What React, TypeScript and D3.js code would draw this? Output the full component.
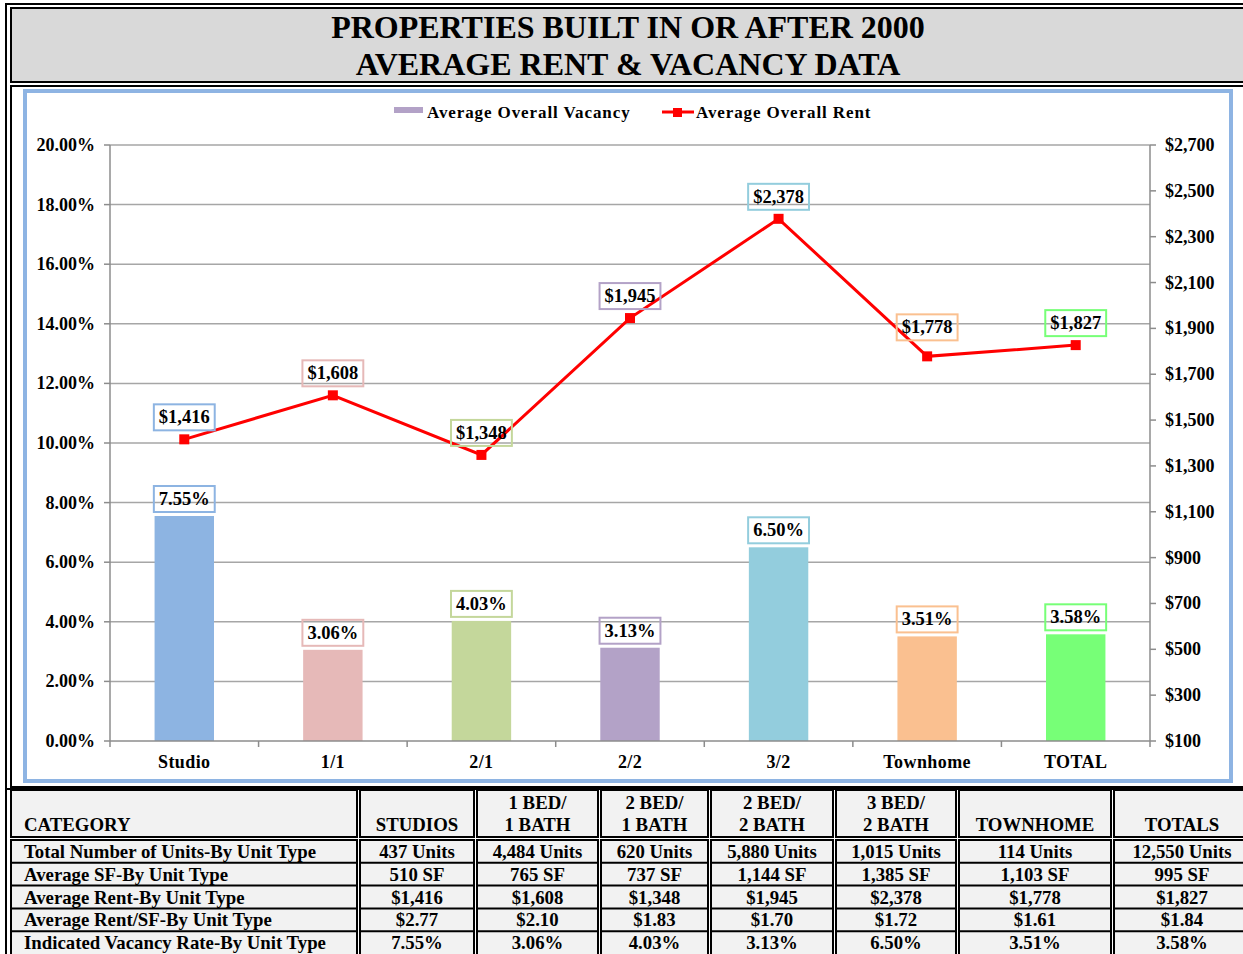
import React from 'react';
import * as d3 from 'd3';

// chart data
const categories = ['Studio', '1/1', '2/1', '2/2', '3/2', 'Townhome', 'TOTAL'];
const vacancy = [7.55, 3.06, 4.03, 3.13, 6.5, 3.51, 3.58];
const rent = [1416, 1608, 1348, 1945, 2378, 1778, 1827];
const barColors = ['#8db4e2', '#e6b9b8', '#c4d79b', '#b3a2c7', '#93cddd', '#fac090', '#77ff77'];
const vacancyTicks = [0, 2, 4, 6, 8, 10, 12, 14, 16, 18, 20];
const rentTicks = [100, 300, 500, 700, 900, 1100, 1300, 1500, 1700, 1900, 2100, 2300, 2500, 2700];

// table data
const colHeaders = [['STUDIOS'], ['1 BED/', '1 BATH'], ['2 BED/', '1 BATH'], ['2 BED/', '2 BATH'], ['3 BED/', '2 BATH'], ['TOWNHOME'], ['TOTALS']];
const rowLabels = [
    'Total Number of Units-By Unit Type',
    'Average SF-By Unit Type',
    'Average Rent-By Unit Type',
    'Average Rent/SF-By Unit Type',
    'Indicated Vacancy Rate-By Unit Type',
];
const units = [437, 4484, 620, 5880, 1015, 114, 12550];
const avgSf = [510, 765, 737, 1144, 1385, 1103, 995];
const rentPerSf = [2.77, 2.1, 1.83, 1.7, 1.72, 1.61, 1.84];

const FONT = "'Liberation Serif', 'Times New Roman', serif";
const W = 1243;
const H = 954;

// plot box
const plot = { left: 110, right: 1150, top: 145, bottom: 741 };

let ctx: CanvasRenderingContext2D | null = null;
const textWidth = (s: string, size: number) => {
    if (!ctx) ctx = document.createElement('canvas').getContext('2d');
    if (!ctx) return s.length * size * 0.5;
    ctx.font = `bold ${size}px ${FONT}`;
    return ctx.measureText(s).width;
};

const fmtComma = d3.format(',');
const fmtMoney = (v: number) => '$' + fmtComma(v);

const App = () => {
    const x = d3.scaleBand<string>()
        .domain(categories)
        .range([plot.left, plot.right])
        .paddingInner(0.6)
        .paddingOuter(0.3);
    const step = (plot.right - plot.left) / categories.length;
    const yL = d3.scaleLinear().domain([0, 20]).range([plot.bottom, plot.top]);
    const yR = d3.scaleLinear().domain([100, 2700]).range([plot.bottom, plot.top]);

    const cx = (c: string) => (x(c) as number) + x.bandwidth() / 2;
    const line = d3.line<number>()
        .x((_, i) => cx(categories[i]))
        .y(d => yR(d));

    // table layout
    const cols = [[11, 357], [360, 474], [477, 598], [601, 708], [711, 833], [836, 956], [959, 1111], [1114, 1250]];
    const headTop = 790, headBottom = 837, bodyTop = 840;
    const rowH = 22.8;
    const tableRows = [
        units.map(v => fmtComma(v) + ' Units'),
        avgSf.map(v => fmtComma(v) + ' SF'),
        rent.map(fmtMoney),
        rentPerSf.map(v => '$' + v.toFixed(2)),
        vacancy.map(v => v.toFixed(2) + '%'),
    ];

    const labelBox = (text: string, cxv: number, bottom: number, color: string, key: string) => {
        const w = textWidth(text, 18.5) + 10;
        return (
            <g key={key}>
                <rect x={cxv - w / 2} y={bottom - 26} width={w} height={26} fill="none" stroke={color} strokeWidth={2} />
                <text x={cxv} y={bottom - 7} textAnchor="middle" fontSize={18.5} fontWeight="bold" fontFamily={FONT}>{text}</text>
            </g>
        );
    };

    return (
        <div style={{ position: 'absolute', left: 0, top: 0 }}>
            <svg width={W} height={H} style={{ display: 'block' }} fontFamily={FONT}>
                <rect x={0} y={0} width={W} height={H} fill="#fff" />
                {/* outer frame */}
                <rect x={6} y={4} width={W + 10} height={H + 10} fill="none" stroke="#000" strokeWidth={2} />
                {/* title cell */}
                <rect x={11} y={8} width={W} height={74} fill="#d9d9d9" stroke="#000" strokeWidth={2} />
                <text x={628} y={38} textAnchor="middle" fontSize={32} fontWeight="bold">PROPERTIES BUILT IN OR AFTER 2000</text>
                <text x={628} y={75} textAnchor="middle" fontSize={32} fontWeight="bold">AVERAGE RENT &amp; VACANCY DATA</text>
                {/* chart cell */}
                <rect x={11} y={86} width={W} height={701} fill="#fff" stroke="#000" strokeWidth={2} />
                <rect x={25} y={91} width={1206} height={690} fill="#fff" stroke="#8eb4e3" strokeWidth={4} />

                {/* legend */}
                <rect x={394} y={107} width={29} height={6} fill="#b3a2c7" />
                <text x={427} y={118} fontSize={17} fontWeight="bold" letterSpacing={0.9}>Average Overall Vacancy</text>
                <line x1={662} x2={694} y1={112} y2={112} stroke="#ff0000" strokeWidth={3} />
                <rect x={673} y={108} width={9} height={9} fill="#ff0000" />
                <text x={696} y={118} fontSize={17} fontWeight="bold" letterSpacing={0.9}>Average Overall Rent</text>

                {/* gridlines */}
                {vacancyTicks.slice(1).map(t => (
                    <line key={'g' + t} x1={plot.left} x2={plot.right} y1={yL(t)} y2={yL(t)} stroke="#a6a6a6" strokeWidth={1.5} />
                ))}

                {/* left axis */}
                <line x1={plot.left} x2={plot.left} y1={plot.top} y2={plot.bottom} stroke="#8c8c8c" strokeWidth={1.5} />
                {vacancyTicks.map(t => (
                    <g key={'l' + t}>
                        <line x1={plot.left - 6} x2={plot.left} y1={yL(t)} y2={yL(t)} stroke="#8c8c8c" strokeWidth={1.5} />
                        <text x={95} y={yL(t) + 6} textAnchor="end" fontSize={18} fontWeight="bold">{t.toFixed(2) + '%'}</text>
                    </g>
                ))}

                {/* right axis */}
                <line x1={plot.right} x2={plot.right} y1={plot.top} y2={plot.bottom} stroke="#8c8c8c" strokeWidth={1.5} />
                {rentTicks.map(t => (
                    <g key={'r' + t}>
                        <line x1={plot.right} x2={plot.right + 6} y1={yR(t)} y2={yR(t)} stroke="#8c8c8c" strokeWidth={1.5} />
                        <text x={1165} y={yR(t) + 6} fontSize={18} fontWeight="bold">{fmtMoney(t)}</text>
                    </g>
                ))}

                {/* bars */}
                {categories.map((c, i) => (
                    <rect key={'b' + c} x={x(c)} y={yL(vacancy[i])} width={x.bandwidth()} height={yL(0) - yL(vacancy[i])} fill={barColors[i]} />
                ))}

                {/* x axis */}
                <line x1={plot.left} x2={plot.right} y1={plot.bottom} y2={plot.bottom} stroke="#8c8c8c" strokeWidth={1.5} />
                {d3.range(categories.length + 1).map(i => (
                    <line key={'xt' + i} x1={plot.left + i * step} x2={plot.left + i * step} y1={plot.bottom} y2={plot.bottom + 6} stroke="#8c8c8c" strokeWidth={1.5} />
                ))}
                {categories.map(c => (
                    <text key={'xl' + c} x={cx(c)} y={768} textAnchor="middle" fontSize={18} fontWeight="bold" letterSpacing={0.4}>{c}</text>
                ))}

                {/* vacancy labels */}
                {categories.map((c, i) => labelBox(vacancy[i].toFixed(2) + '%', cx(c), yL(vacancy[i]) - 4, barColors[i], 'vl' + c))}

                {/* rent line */}
                <path d={line(rent) || ''} fill="none" stroke="#ff0000" strokeWidth={3} />
                {categories.map((c, i) => (
                    <rect key={'m' + c} x={cx(c) - 5} y={yR(rent[i]) - 5} width={10} height={10} fill="#ff0000" />
                ))}
                {/* townhome label was nudged up a bit in the original */}
                {categories.map((c, i) => labelBox(fmtMoney(rent[i]), cx(c), yR(rent[i]) - (c === 'Townhome' ? 16 : 9), barColors[i], 'rl' + c))}

                {/* bottom frame of chart cell area */}
                <line x1={6} x2={W} y1={789} y2={789} stroke="#000" strokeWidth={2} />

                {/* table */}
                {cols.map(([a, b], ci) => (
                    <g key={'col' + ci}>
                        <rect x={a} y={headTop} width={b - a} height={headBottom - headTop} fill="#f2f2f2" stroke="#000" strokeWidth={2} />
                        <rect x={a} y={bodyTop} width={b - a} height={rowH * 5 + 4} fill="#f2f2f2" stroke="#000" strokeWidth={2} />
                        {d3.range(1, 5).map(r => (
                            <line key={r} x1={a} x2={b} y1={bodyTop + r * rowH} y2={bodyTop + r * rowH} stroke="#000" strokeWidth={2} />
                        ))}
                    </g>
                ))}
                <text x={24} y={831} fontSize={18.8} fontWeight="bold">CATEGORY</text>
                {colHeaders.map((h, i) => {
                    const [a, b] = cols[i + 1];
                    const mid = (a + b) / 2;
                    return h.map((t, k) => (
                        <text key={'h' + i + k} x={mid} y={h.length === 1 ? 831 : 809 + k * 22} textAnchor="middle" fontSize={18.8} fontWeight="bold">{t}</text>
                    ));
                })}
                {rowLabels.map((l, r) => (
                    <text key={'rl' + r} x={24} y={bodyTop + r * rowH + 18} fontSize={18.8} fontWeight="bold">{l}</text>
                ))}
                {tableRows.map((row, r) => row.map((v, i) => {
                    const [a, b] = cols[i + 1];
                    return (
                        <text key={'c' + r + '-' + i} x={(a + b) / 2} y={bodyTop + r * rowH + 18} textAnchor="middle" fontSize={18.8} fontWeight="bold">{v}</text>
                    );
                }))}
            </svg>
        </div>
    );
};

export default App;
